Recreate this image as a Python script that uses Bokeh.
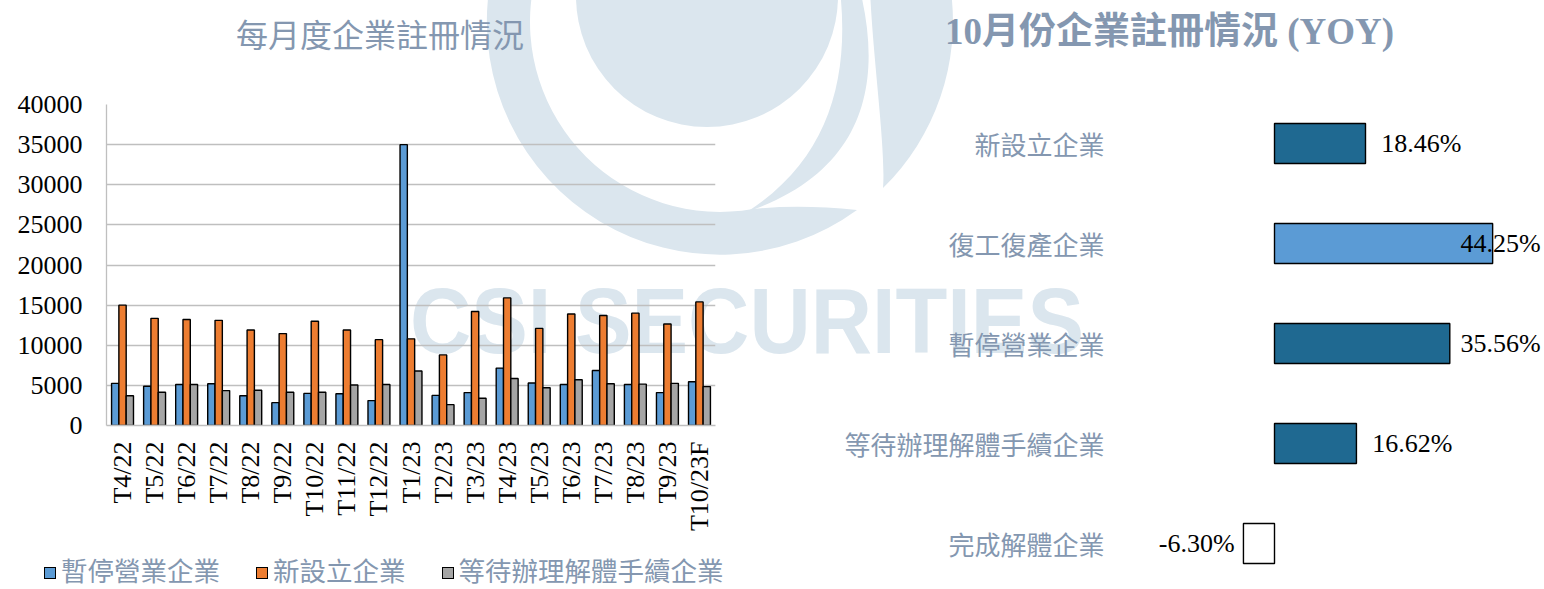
import base64
import numpy as np
from bokeh.plotting import figure
from bokeh.models import ColumnDataSource, FactorRange, Range1d, FixedTicker, Div
from bokeh.layouts import row, column
from bokeh.transform import dodge
from bokeh.embed import file_html
from bokeh.resources import INLINE

# ---------------- data ----------------
months = ["T4/22", "T5/22", "T6/22", "T7/22", "T8/22", "T9/22", "T10/22", "T11/22",
          "T12/22", "T1/23", "T2/23", "T3/23", "T4/23", "T5/23", "T6/23", "T7/23",
          "T8/23", "T9/23", "T10/23F"]
suspended = [5250, 4900, 5100, 5200, 3700, 2850, 4000, 3950, 3100, 35000, 3750, 4100,
             7150, 5300, 5100, 6850, 5100, 4100, 5450]
new_est = [15000, 13350, 13200, 13100, 11900, 11450, 13000, 11900, 10700, 10800, 8800,
           14200, 15900, 12100, 13900, 13700, 14000, 12650, 15400]
waiting = [3700, 4150, 5100, 4350, 4400, 4150, 4150, 5050, 5100, 6800, 2600, 3400,
           5850, 4700, 5700, 5200, 5150, 5250, 4850]
series_names = ["暫停營業企業", "新設立企業", "等待辦理解體手續企業"]
y_ticks = [0, 5000, 10000, 15000, 20000, 25000, 30000, 35000, 40000]

yoy_cats = ["新設立企業", "復工復產企業", "暫停營業企業", "等待辦理解體手續企業", "完成解體企業"]
yoy_vals = [18.46, 44.25, 35.56, 16.62, -6.30]

title_left = "每月度企業註冊情況"
title_right = "10月份企業註冊情況 (YOY)"
watermark = "CSI SECURITIES"

# ---------------- styles ----------------
SLATE = "#8497B0"
WM = "#dbe6ee"
CJK = "Noto Sans CJK TC"
SERIF = "Liberation Serif"
bar_colors = ["#5B9BD5", "#ED7D31", "#A5A5A5"]
H = 589
W1, W2 = 826, 718
TITLE_H, LEG_H = 70, 50

# ---------------- left chart ----------------
src = ColumnDataSource(dict(month=months, suspended=suspended, new_est=new_est, waiting=waiting))

p1 = figure(width=W1, height=H - TITLE_H - LEG_H,
            x_range=FactorRange(factors=months, range_padding=0),
            y_range=Range1d(0, 40000), output_backend="svg", toolbar_location=None,
            min_border_left=106, min_border_right=111, min_border_top=34, min_border_bottom=114)
p1.frame_align = False
p1.margin = 0
p1.background_fill_color = None
p1.border_fill_color = None
p1.outline_line_color = None

bw = 0.228
for field, off, col in zip(["suspended", "new_est", "waiting"], [-bw, 0, bw], bar_colors):
    p1.vbar(x=dodge("month", off, range=p1.x_range), top=field, width=bw, source=src,
            fill_color=col, line_color="black", line_width=1.4)

p1.xgrid.visible = False
p1.ygrid.grid_line_color = "#BFBFBF"
p1.ygrid.grid_line_width = 1.3
p1.yaxis.ticker = FixedTicker(ticks=y_ticks)
p1.yaxis.axis_line_color = "#BFBFBF"
p1.yaxis.axis_line_width = 1.3
p1.yaxis.major_tick_line_color = None
p1.yaxis.minor_tick_line_color = None
p1.yaxis.major_tick_out = 0
p1.yaxis.major_label_standoff = 24
p1.yaxis.major_label_text_font = SERIF
p1.yaxis.major_label_text_font_size = "26px"
p1.yaxis.major_label_text_color = "black"

p1.xaxis.axis_line_color = "#BFBFBF"
p1.xaxis.axis_line_width = 1.3
p1.xaxis.major_tick_line_color = None
p1.xaxis.minor_tick_line_color = None
p1.xaxis.major_tick_out = 0
p1.xaxis.major_label_orientation = np.pi / 2
p1.xaxis.major_label_standoff = 16
p1.xaxis.major_label_text_font = SERIF
p1.xaxis.major_label_text_font_size = "26px"
p1.xaxis.major_label_text_color = "black"

title1 = Div(text=f'<div style="white-space:nowrap;font-family:\'{CJK}\';font-size:32px;'
                  f'color:{SLATE};line-height:66px;padding-left:236px">{title_left}</div>',
             width=W1, height=TITLE_H, margin=0)

items = "".join(
    f'<span style="display:inline-block;box-sizing:border-box;width:12px;min-width:12px;height:12px;'
    f'background:{c};border:1.5px solid #000;margin-right:5px;vertical-align:middle;'
    f'position:relative;top:-1px"></span>'
    f'<span style="margin-right:36px">{n}</span>'
    for n, c in zip(series_names, bar_colors))
legend1 = Div(text=f'<div style="white-space:nowrap;font-family:\'{CJK}\';font-size:26.5px;'
                   f'color:{SLATE};line-height:26px;padding-top:18px;padding-left:44px">{items}</div>',
              width=W1, height=LEG_H, margin=0)

# ---------------- right chart ----------------
x_lo, x_hi = -31.24, 54.77
label_edge = x_hi - 0.8
idx = np.arange(len(yoy_cats))
vals = np.array(yoy_vals)
fills = ["white" if v < 0 else ("#5B9BD5" if i == 1 else "#1F6991") for i, v in enumerate(yoy_vals)]
src2 = ColumnDataSource(dict(y=idx, v=vals, fill=fills))

p2 = figure(width=W2, height=H - TITLE_H, x_range=Range1d(x_lo, x_hi), y_range=Range1d(4.46, -0.55),
            output_backend="svg", toolbar_location=None, x_axis_location=None,
            min_border_left=294, min_border_right=0, min_border_top=18, min_border_bottom=0)
p2.frame_align = False
p2.margin = 0
p2.background_fill_color = None
p2.border_fill_color = None
p2.outline_line_color = None
p2.grid.visible = False

p2.hbar(y="y", left=0, right="v", height=0.4, source=src2, fill_color="fill",
        line_color="black", line_width=1.4)

p2.yaxis.ticker = FixedTicker(ticks=list(idx))
p2.yaxis.major_label_overrides = {int(i): c for i, c in zip(idx, yoy_cats)}
p2.yaxis.axis_line_color = None
p2.yaxis.major_tick_line_color = None
p2.yaxis.minor_tick_line_color = None
p2.yaxis.major_tick_out = 0
p2.yaxis.major_label_standoff = 16
p2.yaxis.major_label_text_font = CJK
p2.yaxis.major_label_text_font_size = "26px"
p2.yaxis.major_label_text_color = SLATE

pad, room = 3.2, 17.0
labels = [f"{v:.2f}%" for v in yoy_vals]
lx, align = [], []
for v in yoy_vals:
    if v < 0:
        lx.append(v - 1.8); align.append("right")
    elif v + pad + room > label_edge:
        lx.append(label_edge); align.append("right")
    else:
        lx.append(v + pad); align.append("left")
lx = np.array(lx)
align = np.array(align)
for a in ["left", "right"]:
    m = align == a
    s = ColumnDataSource(dict(x=lx[m], y=idx[m], t=[labels[i] for i in idx[m]]))
    p2.text(x="x", y="y", text="t", source=s, text_align=a, text_baseline="middle",
            text_font_size="26px", text_color="black",
            text_font={"value": SERIF})

title2 = Div(text=f'<div style="white-space:nowrap;font-family:\'{SERIF}\',\'{CJK}\';font-size:37px;'
                  f'font-weight:bold;color:{SLATE};line-height:64px;padding-left:119px">{title_right}</div>',
             width=W2, height=TITLE_H, margin=0)

# ---------------- background logo / watermark ----------------
svg = f'''<svg xmlns="http://www.w3.org/2000/svg" width="1544" height="589"><g fill="{WM}">
<path d="M489,-10 A233,233 0 0,0 857,210 Q800,204 753,209 A190,190 0 0,1 532.7,-10 Z"/>
<path d="M870,-10 L950.8,-10 A233,233 0 0,1 883,188 C886,150 873,60 870,-10 Z"/>
<path d="M840,-10 L860,-10 C882,80 868,170 747,212 C828,160 850,80 840,-10 Z"/>
<circle cx="707" cy="-4" r="131"/>
<text x="410" y="353" font-family="Liberation Sans, Arial, sans-serif" font-weight="bold"
 font-size="92" textLength="674" lengthAdjust="spacingAndGlyphs">{watermark}</text>
</g></svg>'''
bg = "url('data:image/svg+xml;base64," + base64.b64encode(svg.encode()).decode() + "')"

layout = row(column(title1, p1, legend1, margin=0, spacing=0),
             column(title2, p2, margin=0, spacing=0),
             margin=0, spacing=0,
             styles={"background-image": bg, "background-repeat": "no-repeat",
                     "background-position": "0 0"})

open("out.html", "w").write(file_html(layout, INLINE))
